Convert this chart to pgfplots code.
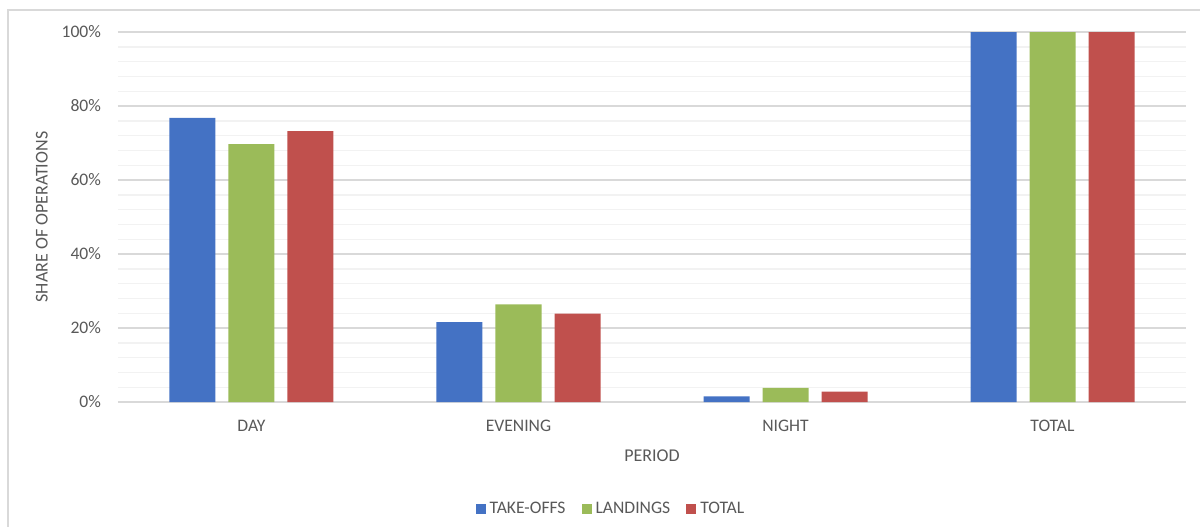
\documentclass[border=0pt]{standalone}
\usepackage{fontspec}
\setmainfont{Carlito}
\usepackage{pgfplots}
\pgfplotsset{compat=1.18}

\definecolor{takeoffs}{HTML}{4472C4}
\definecolor{landings}{HTML}{9BBB59}
\definecolor{totalc}{HTML}{C0504D}
\definecolor{majorgrid}{HTML}{D9D9D9}
\definecolor{minorgrid}{HTML}{F2F2F2}
\definecolor{labelgray}{HTML}{595959}

\begin{document}
\begin{tikzpicture}
% chart frame
\draw[majorgrid, line width=0.8pt] (-55pt,-80pt) -- (-55pt,196pt) -- (560pt,196pt);
\begin{axis}[
    scale only axis,
    width=534pt, height=185pt,
    xmin=-0.5, xmax=3.5,
    ymin=0, ymax=100,
    ybar=6.5pt, bar width=23pt,
    xtick={0,1,2,3},
    xticklabels={DAY,EVENING,NIGHT,TOTAL},
    ytick={0,20,40,60,80,100},
    minor y tick num=4,
    yticklabel={\pgfmathprintnumber{\tick}\%},
    /pgf/number format/assume math mode=true,
    ymajorgrids, yminorgrids,
    major grid style={majorgrid, line width=0.7pt},
    minor grid style={minorgrid, line width=0.7pt},
    axis line style={draw=none},
    major tick length=0pt, minor tick length=0pt,
    tick style={draw=none},
    tick label style={font=\fontsize{8.8}{10}\selectfont, text=labelgray},
    yticklabel style={anchor=east, xshift=-5pt},
    xticklabel style={yshift=-5.5pt},
    xlabel={PERIOD},
    ylabel={SHARE OF OPERATIONS},
    label style={font=\fontsize{9}{10}\selectfont, text=labelgray},
    xlabel style={yshift=-2pt},
    legend style={at={(0.4625,-0.29)}, anchor=center, draw=none,
        font=\fontsize{8.8}{10}\selectfont, text=labelgray,
        legend columns=3, /tikz/every even column/.append style={column sep=6pt}},
    legend image code/.code={\fill[#1] (0pt,-2.5pt) rectangle (5pt,2.5pt);},
]
\addplot[fill=takeoffs, draw=none] coordinates {(0,76.8) (1,21.6) (2,1.5) (3,100)};
\addplot[fill=landings, draw=none] coordinates {(0,69.7) (1,26.4) (2,3.8) (3,100)};
\addplot[fill=totalc, draw=none] coordinates {(0,73.2) (1,23.9) (2,2.8) (3,100)};
\legend{TAKE-OFFS, LANDINGS, TOTAL}
\end{axis}
\pgfresetboundingbox
\path[use as bounding box] (-59pt,-62pt) rectangle (541pt,201pt);
\end{tikzpicture}
\end{document}
